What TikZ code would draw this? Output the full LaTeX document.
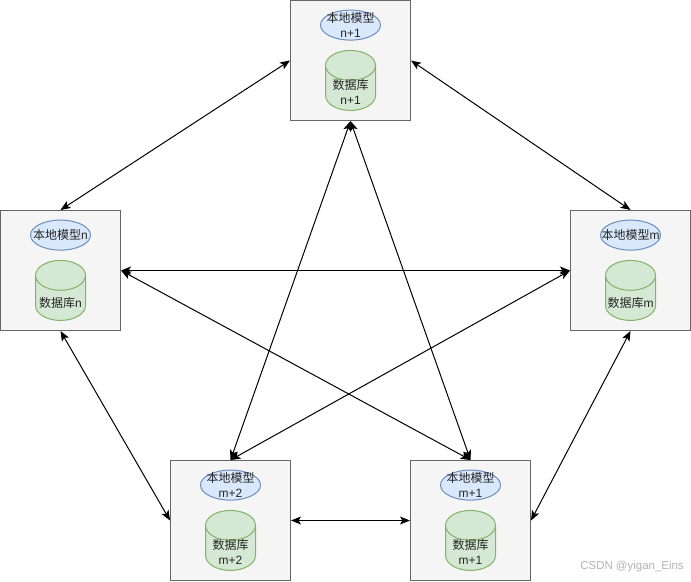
\documentclass[tikz,border=0pt]{standalone}
\usepackage{fontspec}
\setmainfont{Liberation Sans}
\newfontfamily\cjk{Noto Sans CJK SC}
\usepackage{tikz}
\usetikzlibrary{arrows.meta,positioning,shapes.geometric}
\definecolor{softgray}{HTML}{F5F5F5}
\definecolor{softblue}{HTML}{DAE8FC}
\definecolor{softgreen}{HTML}{D5E8D4}
\definecolor{edgegray}{HTML}{666666}
\definecolor{edgeblue}{HTML}{6C8EBF}
\definecolor{edgegreen}{HTML}{82B366}
\newcommand{\modeltxt}{{\cjk 本地模型}}
\newcommand{\dbtxt}{{\cjk 数据库}}
\tikzset{
  clientbox/.style={draw=edgegray,fill=softgray,minimum width=90pt,minimum height=90pt,inner sep=0pt,line width=0.75pt},
  modelnode/.style={draw=edgeblue,fill=softblue,ellipse,minimum width=45pt,minimum height=22.5pt,inner sep=0pt,line width=0.75pt,below=7.2pt of #1.north},
  dbnode/.style={draw=edgegreen,fill=softgreen,shape=cylinder,shape border rotate=90,aspect=3.2,minimum width=37.5pt,minimum height=45pt,inner sep=1pt,line width=0.75pt,below=7pt of #1},
  txtlabel/.style={font=\fontsize{9pt}{11.25pt}\selectfont,align=center,inner sep=0pt,text=black!85},
  biarrow/.style={{Stealth[length=7.5pt,width=6pt,inset=1.8pt]}-{Stealth[length=7.5pt,width=6pt,inset=1.8pt]},line width=0.75pt,black}
}
\begin{document}
\begin{tikzpicture}[x=0.75pt,y=-0.75pt]
\useasboundingbox (0,0) rectangle (691,581);
% clients
\node[clientbox] (top) at (350.5,60.5) {};
\node[modelnode=top] (topmodel) {};
\node[txtlabel] (topmodeltxt) at (topmodel) {\modeltxt\\n+1};
\node[dbnode=topmodel] (topdb) {\phantom{x}};
\node[txtlabel,below=22pt of topdb.north] (topdbtxt) {\dbtxt\\n+1};

\node[clientbox] (left) at (60.5,270.5) {};
\node[modelnode=left] (leftmodel) {};
\node[txtlabel] (leftmodeltxt) at (leftmodel) {\modeltxt n};
\node[dbnode=leftmodel] (leftdb) {\phantom{x}};
\node[txtlabel,below=28pt of leftdb.north] (leftdbtxt) {\dbtxt n};

\node[clientbox] (right) at (630.5,270.5) {};
\node[modelnode=right] (rightmodel) {};
\node[txtlabel] (rightmodeltxt) at (rightmodel) {\modeltxt m};
\node[dbnode=rightmodel] (rightdb) {\phantom{x}};
\node[txtlabel,below=28pt of rightdb.north] (rightdbtxt) {\dbtxt m};

\node[clientbox] (botl) at (230.5,520.5) {};
\node[modelnode=botl] (botlmodel) {};
\node[txtlabel] (botlmodeltxt) at (botlmodel) {\modeltxt\\m+2};
\node[dbnode=botlmodel] (botldb) {\phantom{x}};
\node[txtlabel,below=22pt of botldb.north] (botldbtxt) {\dbtxt\\m+2};

\node[clientbox] (botr) at (470.5,520.5) {};
\node[modelnode=botr] (botrmodel) {};
\node[txtlabel] (botrmodeltxt) at (botrmodel) {\modeltxt\\m+1};
\node[dbnode=botrmodel] (botrdb) {\phantom{x}};
\node[txtlabel,below=22pt of botrdb.north] (botrdbtxt) {\dbtxt\\m+1};

% links
\draw[biarrow] (top.west)--(left.north);
\draw[biarrow] (top.east)--(right.north);
\draw[biarrow] (left.east)--(right.west);
\draw[biarrow] (left.east)--(botr.north);
\draw[biarrow] (right.west)--(botl.north);
\draw[biarrow] (top.south)--(botl.north);
\draw[biarrow] (top.south)--(botr.north);
\draw[biarrow] (left.south)--(botl.west);
\draw[biarrow] (right.south)--(botr.east);
\draw[biarrow] (botl.east)--(botr.west);

\node[font=\fontsize{8.6pt}{10pt}\selectfont,text=black!30,anchor=east,inner sep=0pt] (mark) at (684,567) {CSDN @yigan\_Eins};
\end{tikzpicture}
\end{document}
